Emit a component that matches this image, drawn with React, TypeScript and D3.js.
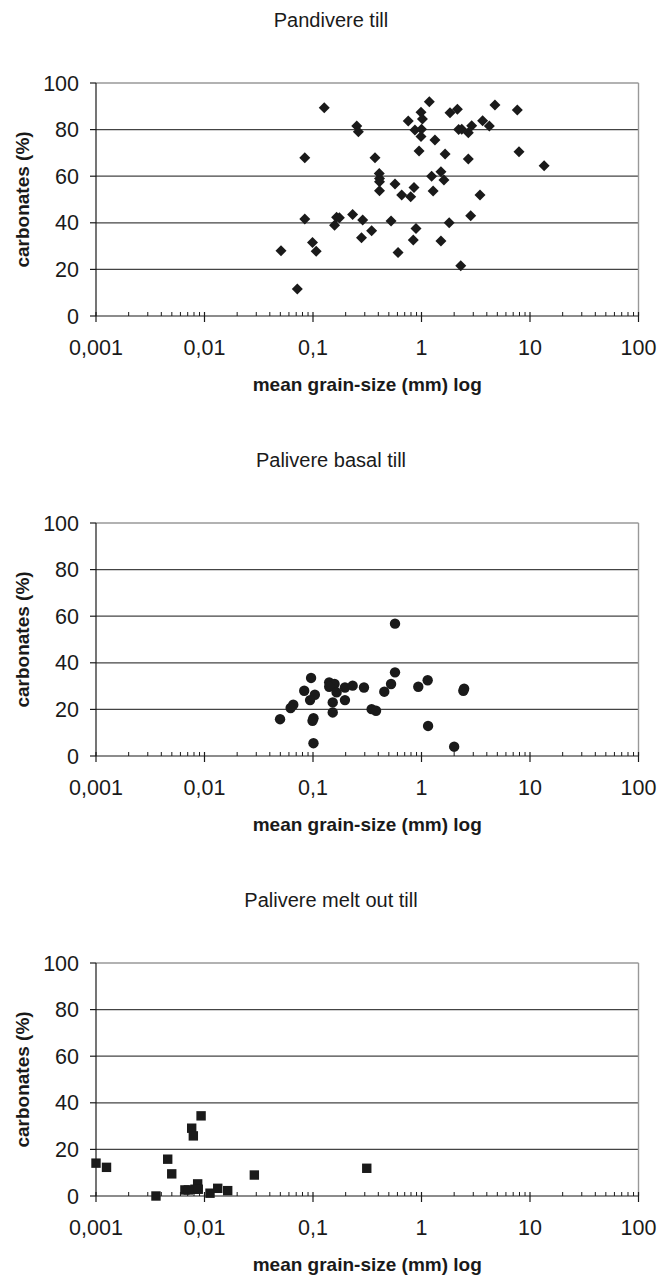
import React from 'react';
import * as d3 from 'd3';

// [mean grain-size (mm), carbonates (%)]
const pandivere: [number, number][] = [
  [0.127, 89.4], [1.18, 92], [0.99, 87.4], [0.755, 83.7], [1.02, 84.5], [1.83, 87.2],
  [2.14, 88.7], [0.253, 81.5], [0.262, 79.1], [0.87, 79.8], [1.0, 80.1], [0.99, 77],
  [1.33, 75.5], [2.2, 80], [0.084, 67.9], [0.373, 67.9], [0.95, 70.8], [1.65, 69.5],
  [0.408, 61.2], [0.41, 59], [0.41, 57.6], [0.57, 56.7], [0.853, 55.2], [0.41, 53.8],
  [0.657, 51.9], [0.795, 51.2], [1.28, 53.6], [1.61, 58.4], [1.24, 60], [1.51, 61.9],
  [0.084, 41.6], [0.0507, 28], [0.099, 31.5], [0.107, 27.8], [0.0717, 11.6], [0.165, 42.4],
  [0.158, 39], [0.175, 42.2], [0.232, 43.6], [0.287, 41.2], [0.28, 33.6], [0.347, 36.6],
  [0.524, 40.8], [0.89, 37.6], [0.84, 32.6], [0.608, 27.2], [1.8, 40], [1.51, 32.2],
  [2.3, 21.6], [4.75, 90.6], [7.64, 88.4], [2.35, 80.1], [2.9, 81.7], [2.7, 78.7],
  [3.66, 83.8], [4.22, 81.5], [2.7, 67.4], [7.92, 70.5], [13.5, 64.5], [3.46, 51.9],
  [2.84, 43],
];

const paliverBasal: [number, number][] = [
  [0.57, 56.8], [0.096, 33.5], [0.57, 35.9], [1.14, 32.5], [0.141, 31.6], [0.158, 30.9],
  [0.141, 29.7], [0.197, 29.4], [0.232, 30.2], [0.295, 29.4], [0.524, 30.9], [0.454, 27.6],
  [0.934, 29.7], [2.43, 28], [2.47, 28.9], [0.083, 28], [0.104, 26.3], [0.165, 27.3],
  [0.094, 24], [0.152, 23], [0.197, 24], [0.0658, 22], [0.0622, 20.6], [0.0497, 15.8],
  [0.101, 16.2], [0.099, 15.1], [0.152, 18.7], [0.347, 20.1], [0.381, 19.4], [1.15, 12.9],
  [0.101, 5.5], [2.0, 4],
];

const paliverMeltOut: [number, number][] = [
  [0.001, 14.1], [0.00125, 12.3], [0.00458, 15.8], [0.00499, 9.5], [0.00357, 0],
  [0.0093, 34.4], [0.00762, 29.1], [0.00789, 25.8], [0.0066, 2.6], [0.00865, 5.2],
  [0.00817, 2.9], [0.00709, 2.6], [0.00876, 2.9], [0.01124, 1.2], [0.01324, 3.3],
  [0.01636, 2.3], [0.0288, 9], [0.313, 11.9],
];

const titles = ['Pandivere till', 'Palivere basal till', 'Palivere melt out till'];
const xTicks = [0.001, 0.01, 0.1, 1, 10, 100];
const xTickLabels = ['0,001', '0,01', '0,1', '1', '10', '100'];
const yTicks = [0, 20, 40, 60, 80, 100];

const FONT = 'Liberation Sans, Arial, sans-serif';

function Marker({type, x, y}: {type: string, x: number, y: number}) {
  if (type === 'diamond') {
    const r = 5.5;
    return <path d={`M${x},${y - r}L${x + r},${y}L${x},${y + r}L${x - r},${y}Z`} fill="#1a1a1a" />;
  }
  if (type === 'circle') {
    return <circle cx={x} cy={y} r={5.2} fill="#1a1a1a" />;
  }
  return <rect x={x - 4.7} y={y - 4.7} width={9.4} height={9.4} fill="#1a1a1a" />;
}

function Panel({top, title, data, marker}: {top: number, title: string, data: [number, number][], marker: string}) {
  const left = 96, right = 638.5, plotTop = top + 83, plotBottom = top + 316;

  const scaleX = d3.scaleLog().domain([0.001, 100]).range([left, right]);
  const scaleY = d3.scaleLinear().domain([0, 100]).range([plotBottom, plotTop]);

  const minor: number[] = [];
  for (let d = 0.001; d < 99; d *= 10) {
    for (let m = 2; m <= 9; m++) minor.push(d * m);
  }

  return (
    <g fontFamily={FONT} fill="#1a1a1a">
      <text x={331} y={top + 27} textAnchor="middle" fontSize={20}>{title}</text>
      {/* gridlines */}
      {yTicks.filter((v) => v > 0 && v < 100).map((v) =>
        <line key={`g${v}`} x1={left} x2={right} y1={scaleY(v)} y2={scaleY(v)} stroke="#444" strokeWidth={1.2} />
      )}
      <line x1={left} x2={right} y1={plotTop} y2={plotTop} stroke="#999" strokeWidth={1.4} />
      <line x1={right} x2={right} y1={plotTop} y2={plotBottom} stroke="#999" strokeWidth={1.4} />
      {data.map((v, i) =>
        <Marker key={`m${i}`} type={marker} x={scaleX(v[0])} y={scaleY(v[1])} />
      )}
      {/* axes */}
      <line x1={left} x2={left} y1={plotTop} y2={plotBottom} stroke="#1a1a1a" strokeWidth={1.2} />
      <line x1={left} x2={right} y1={plotBottom} y2={plotBottom} stroke="#1a1a1a" strokeWidth={1.2} />
      {yTicks.map((v) =>
        <g key={`y${v}`}>
          <line x1={left - 6} x2={left} y1={scaleY(v)} y2={scaleY(v)} stroke="#1a1a1a" strokeWidth={1.2} />
          <text x={79} y={scaleY(v) + 7.5} textAnchor="end" fontSize={21.5}>{v}</text>
        </g>
      )}
      {minor.map((v, i) =>
        <line key={`n${i}`} x1={scaleX(v)} x2={scaleX(v)} y1={plotBottom - 4} y2={plotBottom} stroke="#1a1a1a" strokeWidth={1} />
      )}
      {xTicks.map((v, i) =>
        <g key={`x${i}`}>
          <line x1={scaleX(v)} x2={scaleX(v)} y1={plotBottom - 4} y2={plotBottom + 6} stroke="#1a1a1a" strokeWidth={1.2} />
          <text x={scaleX(v)} y={plotBottom + 39} textAnchor="middle" fontSize={21.5}>{xTickLabels[i]}</text>
        </g>
      )}
      <text x={(left + right) / 2} y={top + 391} textAnchor="middle" fontSize={19} fontWeight="bold">mean grain-size (mm) log</text>
      <text transform={`translate(29, ${(plotTop + plotBottom) / 2}) rotate(-90)`} textAnchor="middle" fontSize={19} fontWeight="bold">carbonates (%)</text>
    </g>
  );
}

export default function App() {
  return (
    <svg width={661} height={1281} xmlns="http://www.w3.org/2000/svg" style={{position: 'absolute', left: 0, top: 0, background: '#fff'}}>
      <rect width={661} height={1281} fill="#fff" />
      <Panel top={0} title={titles[0]} data={pandivere} marker="diamond" />
      <Panel top={440} title={titles[1]} data={paliverBasal} marker="circle" />
      <Panel top={880} title={titles[2]} data={paliverMeltOut} marker="square" />
    </svg>
  );
}
